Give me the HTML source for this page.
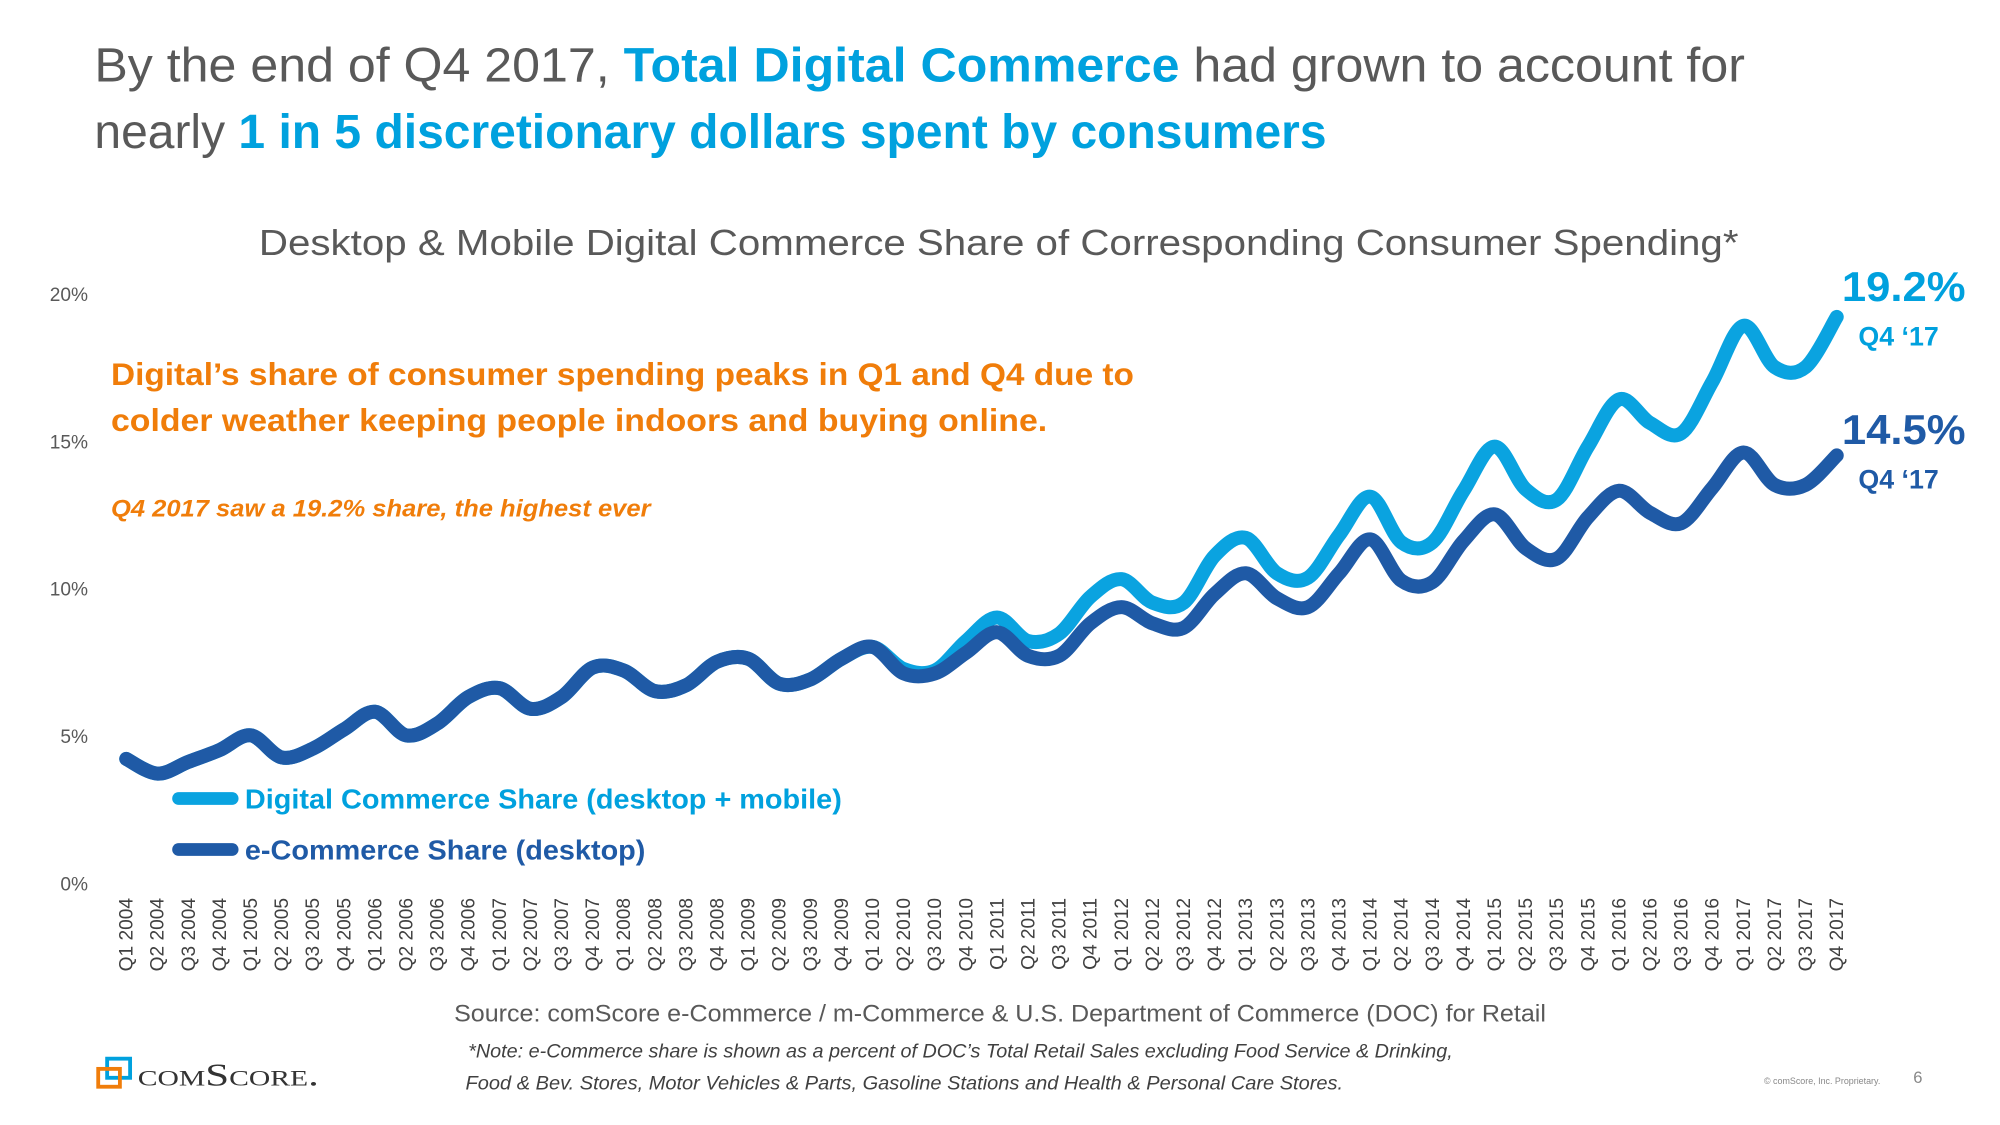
<!DOCTYPE html>
<html><head><meta charset="utf-8"><style>
html,body{margin:0;padding:0;background:#fff;}
svg{display:block;font-family:"Liberation Sans",sans-serif;}
</style></head><body>
<svg id="chart" width="2000" height="1125" viewBox="0 0 1568 882" xmlns="http://www.w3.org/2000/svg">
<text x="74" y="64" font-size="38" fill="#595959" textLength="1294" lengthAdjust="spacingAndGlyphs">By the end of Q4 2017, <tspan fill="#00a1de" font-weight="bold">Total Digital Commerce</tspan> had grown to account for</text>
<text x="74" y="116" font-size="38" fill="#595959" textLength="966" lengthAdjust="spacingAndGlyphs">nearly <tspan fill="#00a1de" font-weight="bold">1 in 5 discretionary dollars spent by consumers</tspan></text>
<text x="203" y="200" font-size="28" fill="#595959" textLength="1160" lengthAdjust="spacingAndGlyphs">Desktop &amp; Mobile Digital Commerce Share of Corresponding Consumer Spending*</text>
<text x="87" y="302" font-size="25" font-weight="bold" fill="#f07d0a" textLength="802" lengthAdjust="spacingAndGlyphs">Digital’s share of consumer spending peaks in Q1 and Q4 due to</text>
<text x="87" y="338" font-size="25" font-weight="bold" fill="#f07d0a" textLength="734" lengthAdjust="spacingAndGlyphs">colder weather keeping people indoors and buying online.</text>
<text x="87" y="405" font-size="19" font-weight="bold" font-style="italic" fill="#f07d0a" textLength="423" lengthAdjust="spacingAndGlyphs">Q4 2017 saw a 19.2% share, the highest ever</text>
<g id="yaxis"></g>
<g id="xaxis"></g>
<g id="series"></g>
<text x="1444" y="236" font-size="33" font-weight="bold" fill="#00a1de" textLength="97" lengthAdjust="spacingAndGlyphs">19.2%</text>
<text x="1457" y="271" font-size="21" font-weight="bold" fill="#00a1de">Q4 ‘17</text>
<text x="1444" y="348" font-size="33" font-weight="bold" fill="#1f5aa6" textLength="97" lengthAdjust="spacingAndGlyphs">14.5%</text>
<text x="1457" y="383" font-size="21" font-weight="bold" fill="#1f5aa6">Q4 ‘17</text>
<g>
<line x1="140" y1="626" x2="182" y2="626" stroke="#0aa3e0" stroke-width="10" stroke-linecap="round"/>
<text x="192" y="634" font-size="22" font-weight="bold" fill="#00a1de" textLength="468" lengthAdjust="spacingAndGlyphs">Digital Commerce Share (desktop + mobile)</text></g>
<g>
<line x1="140" y1="666" x2="182" y2="666" stroke="#1f5aa6" stroke-width="10" stroke-linecap="round"/>
<text x="192" y="674" font-size="22" font-weight="bold" fill="#1f5aa6" textLength="314" lengthAdjust="spacingAndGlyphs">e-Commerce Share (desktop)</text></g>
<text x="356" y="801" font-size="19" fill="#595959" textLength="856" lengthAdjust="spacingAndGlyphs">Source: comScore e-Commerce / m-Commerce &amp; U.S. Department of Commerce (DOC) for Retail</text>
<text x="367" y="829" font-size="15" font-style="italic" fill="#404040" textLength="772" lengthAdjust="spacingAndGlyphs">*Note: e-Commerce share is shown as a percent of DOC’s Total Retail Sales excluding Food Service &amp; Drinking,</text>
<text x="365" y="854" font-size="15" font-style="italic" fill="#404040" textLength="688" lengthAdjust="spacingAndGlyphs">Food &amp; Bev. Stores,  Motor Vehicles &amp; Parts, Gasoline Stations and Health &amp; Personal Care Stores.</text>
<g>
<rect x="84" y="830" width="18" height="15" fill="none" stroke="#00a1de" stroke-width="3"/>
<rect x="77" y="838" width="17" height="14" fill="none" stroke="#f07d0a" stroke-width="3"/>
<text x="108" y="851" font-size="25" fill="#333" font-family="Liberation Serif, serif" style="font-variant:small-caps" textLength="142" lengthAdjust="spacingAndGlyphs">comScore.</text></g>
<text x="1383" y="850" font-size="7" fill="#888">© comScore, Inc. Proprietary.</text>
<text x="1500" y="849" font-size="13" fill="#888">6</text>
</svg>
<script>
const quarters=[];for(let y=2004;y<=2017;y++)for(let q=1;q<=4;q++)quarters.push('Q'+q+' '+y);
const desktopShare=[4.2,3.7,4.1,4.5,5.0,4.25,4.55,5.2,5.8,5.0,5.4,6.3,6.6,5.9,6.3,7.3,7.2,6.5,6.7,7.5,7.6,6.75,6.9,7.6,8.0,7.1,7.1,7.8,8.5,7.7,7.7,8.8,9.35,8.8,8.65,9.8,10.5,9.65,9.35,10.5,11.65,10.25,10.2,11.6,12.5,11.35,11.0,12.4,13.3,12.55,12.2,13.4,14.6,13.5,13.5,14.5];
const digitalShare=[4.2,3.7,4.1,4.5,5.0,4.25,4.55,5.2,5.8,5.0,5.4,6.3,6.6,5.9,6.3,7.3,7.2,6.5,6.7,7.5,7.6,6.75,6.9,7.6,8.0,7.25,7.2,8.2,9.0,8.2,8.45,9.7,10.3,9.5,9.5,11.1,11.7,10.5,10.35,11.8,13.1,11.55,11.55,13.3,14.8,13.35,13.0,14.8,16.4,15.6,15.25,17.0,18.9,17.5,17.5,19.2];
const yTicks=[0,5,10,15,20];
const yTickLabels=['0%','5%','10%','15%','20%'];
const NS='http://www.w3.org/2000/svg';
const x0=99,x1=1440,yTop=230,yBot=692;
const xs=i=>x0+(x1-x0)*i/(quarters.length-1);
const ys=v=>yBot-(yBot-yTop)*v/20;
function mk(tag,attrs,parent){const e=document.createElementNS(NS,tag);for(const k in attrs)e.setAttribute(k,attrs[k]);parent.appendChild(e);return e;}
const ya=document.getElementById('yaxis');
yTicks.forEach((t,i)=>{const e=mk('text',{x:69,y:ys(t)+6,'font-size':15,fill:'#595959','text-anchor':'end'},ya);


e.textContent=yTickLabels[i];});
const xa=document.getElementById('xaxis');
quarters.forEach((q,i)=>{const x=xs(i)+5;const e=mk('text',{x:x,y:704,'font-size':15,fill:'#404040','text-anchor':'end',transform:'rotate(-90 '+x+' 704)'},xa);


e.textContent=q;});
function path(vals){const p=vals.map((v,i)=>[xs(i),ys(v)]);let d='M'+p[0][0]+','+p[0][1];
for(let i=0;i<p.length-1;i++){const a=p[i-1]||p[i],b=p[i],c=p[i+1],e=p[i+2]||c;
d+=' C'+(b[0]+(c[0]-a[0])/6)+','+(b[1]+(c[1]-a[1])/6)+' '+(c[0]-(e[0]-b[0])/6)+','+(c[1]-(e[1]-b[1])/6)+' '+c[0]+','+c[1];}return d;}
const sg=document.getElementById('series');
const l1=mk('path',{d:path(digitalShare),fill:'none',stroke:'#0aa3e0','stroke-width':11,'stroke-linecap':'round','stroke-linejoin':'round'},sg);


const l2=mk('path',{d:path(desktopShare),fill:'none',stroke:'#1f5aa6','stroke-width':11,'stroke-linecap':'round','stroke-linejoin':'round'},sg);


</script>
</body></html>
